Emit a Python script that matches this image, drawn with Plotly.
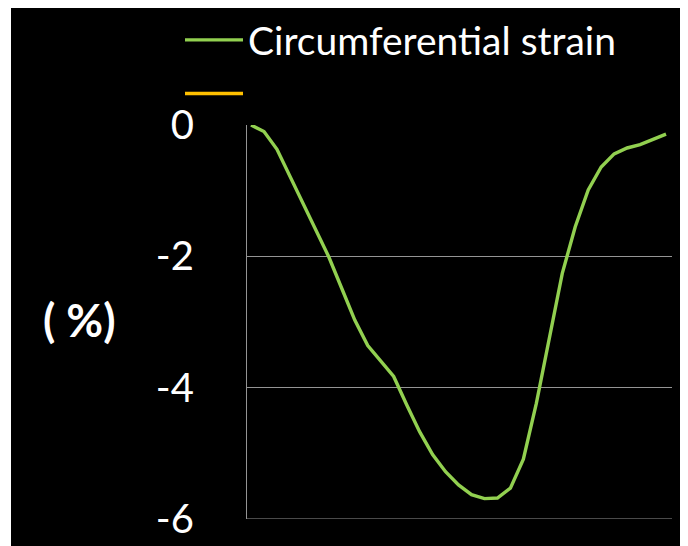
import plotly.graph_objects as go

frames = list(range(33))
circ_strain = [0.0, -0.10, -0.37, -0.78, -1.18, -1.59, -2.01, -2.49, -2.97, -3.36,
               -3.60, -3.83, -4.26, -4.67, -5.02, -5.28, -5.48, -5.63, -5.69, -5.68,
               -5.53, -5.09, -4.24, -3.22, -2.26, -1.55, -0.99, -0.64, -0.44, -0.35,
               -0.30, -0.22, -0.14]
second_series = [None] * 33
series_names = ["Circumferential strain", " "]
y_ticks = [0, -2, -4, -6]

FONT = "Lato, 'Open Sans', sans-serif"
GRID = "#949494"

fig = go.Figure()
fig.add_trace(go.Scatter(x=frames, y=circ_strain, mode="lines", name=series_names[0],
                         line=dict(color="#92D050", width=3.4), cliponaxis=False))
fig.add_trace(go.Scatter(x=frames, y=second_series, mode="lines", name=series_names[1],
                         line=dict(color="#FFC000", width=3.4)))

# figure coordinates (page has an 8px body margin)
L, R, T, B = 239, 24, 117, 35
W, H = 688, 546
pw, ph = W - L - R, H - T - B

def px(xp):
    return (xp - L) / pw

def py(yp):
    return (H - B - yp) / ph

# thin white strip on the left edge of the black canvas
fig.add_shape(type="rect", xref="paper", yref="paper",
              x0=px(-5), x1=px(3), y0=py(-10), y1=py(560),
              fillcolor="white", line=dict(width=0), layer="below")

fig.add_annotation(text="<b>( %)</b>", xref="paper", yref="paper",
                   x=px(71), y=py(312), xanchor="center", yanchor="middle",
                   showarrow=False,
                   font=dict(family=FONT, size=45, color="white"))

fig.update_layout(
    width=W, height=H,
    margin=dict(l=L, r=R, t=T, b=B, pad=0, autoexpand=False),
    paper_bgcolor="black", plot_bgcolor="black",
    showlegend=True,
    legend=dict(x=px(172), y=py(0), xanchor="left", yanchor="top",
                itemwidth=58,
                font=dict(family=FONT, size=39, color="white"),
                bgcolor="rgba(0,0,0,0)", tracegroupgap=0),
    xaxis=dict(range=[-0.31, 32.46], showgrid=False, zeroline=False,
               showticklabels=False, showline=False),
    yaxis=dict(range=[-6, 0], tickvals=y_ticks, ticktext=[str(v) for v in y_ticks],
               showgrid=True, gridcolor=GRID, gridwidth=1.2,
               zeroline=False, showline=True, linecolor=GRID, linewidth=1.2,
               ticks="", ticklabelstandoff=44,
               tickfont=dict(family=FONT, size=40, color="white")),
)
fig.add_hline(y=-6, line=dict(color=GRID, width=1.2))

fig.write_html("out.html")
